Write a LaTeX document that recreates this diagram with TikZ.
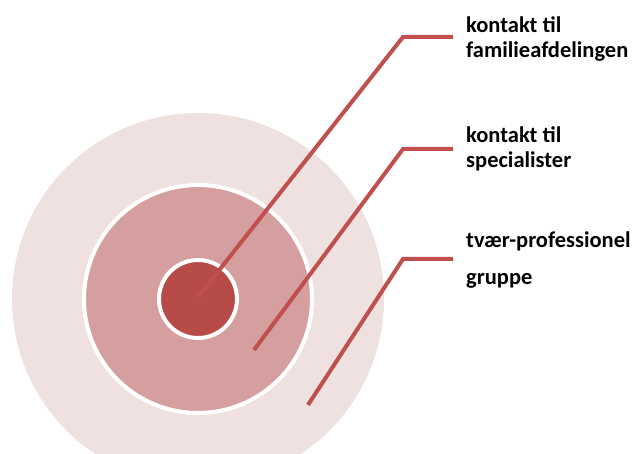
\documentclass[tikz,border=0pt]{standalone}
\usepackage{fontspec}
\setmainfont{Carlito}
\usepackage{xcolor}
\usepackage{tikz}

\definecolor{ringout}{HTML}{F0E1E1}
\definecolor{ringmid}{HTML}{D49F9E}
\definecolor{ringin}{HTML}{B74B48}
\definecolor{leadred}{HTML}{C0504D}

\tikzset{
  ring/.style={circle, inner sep=0pt, draw=white, line width=4pt},
  leader/.style={draw=leadred, line width=4pt},
  lbl/.style={anchor=base west, inner sep=0pt, font=\fontsize{22.5}{26}\selectfont\bfseries}
}

\begin{document}
\begin{tikzpicture}[x=1pt,y=-1pt]
            \useasboundingbox (0,0) rectangle (640,454);
            \clip (0,0) rectangle (640,454);

            % rings
            \node[ring, draw=none, fill=ringout, minimum size=372pt] (outer) at (198,299) {};
            \node[ring, fill=ringmid, minimum size=228pt] (middle) at (198,299) {};
            \node[ring, fill=ringin, minimum size=78pt] (inner) at (198,299) {};

            % labels
            \node[lbl] (t1a) at (466,33) {kontakt til};
            \node[lbl] (t1b) at (466,58) {familieafdelingen};
            \node[lbl] (t2a) at (466,143) {kontakt til};
            \node[lbl] (t2b) at (466,168) {specialister};
            \node[lbl] (t3a) at (466,248) {tvær-professionel};
            \node[lbl] (t3b) at (466,285) {gruppe};

            % leader lines
            \coordinate (p1) at (198,297);
            \coordinate (b1) at (403,37);
            \coordinate (e1) at (453,37);
            \coordinate (p2) at (254,350);
            \coordinate (b2) at (403,149);
            \coordinate (e2) at (453,149);
            \coordinate (p3) at (308,405);
            \coordinate (b3) at (403,259);
            \coordinate (e3) at (453,259);
            \draw[leader] (p1) -- (b1) -- (e1);
            \draw[leader] (p2) -- (b2) -- (e2);
            \draw[leader] (p3) -- (b3) -- (e3);
\end{tikzpicture}
\end{document}
